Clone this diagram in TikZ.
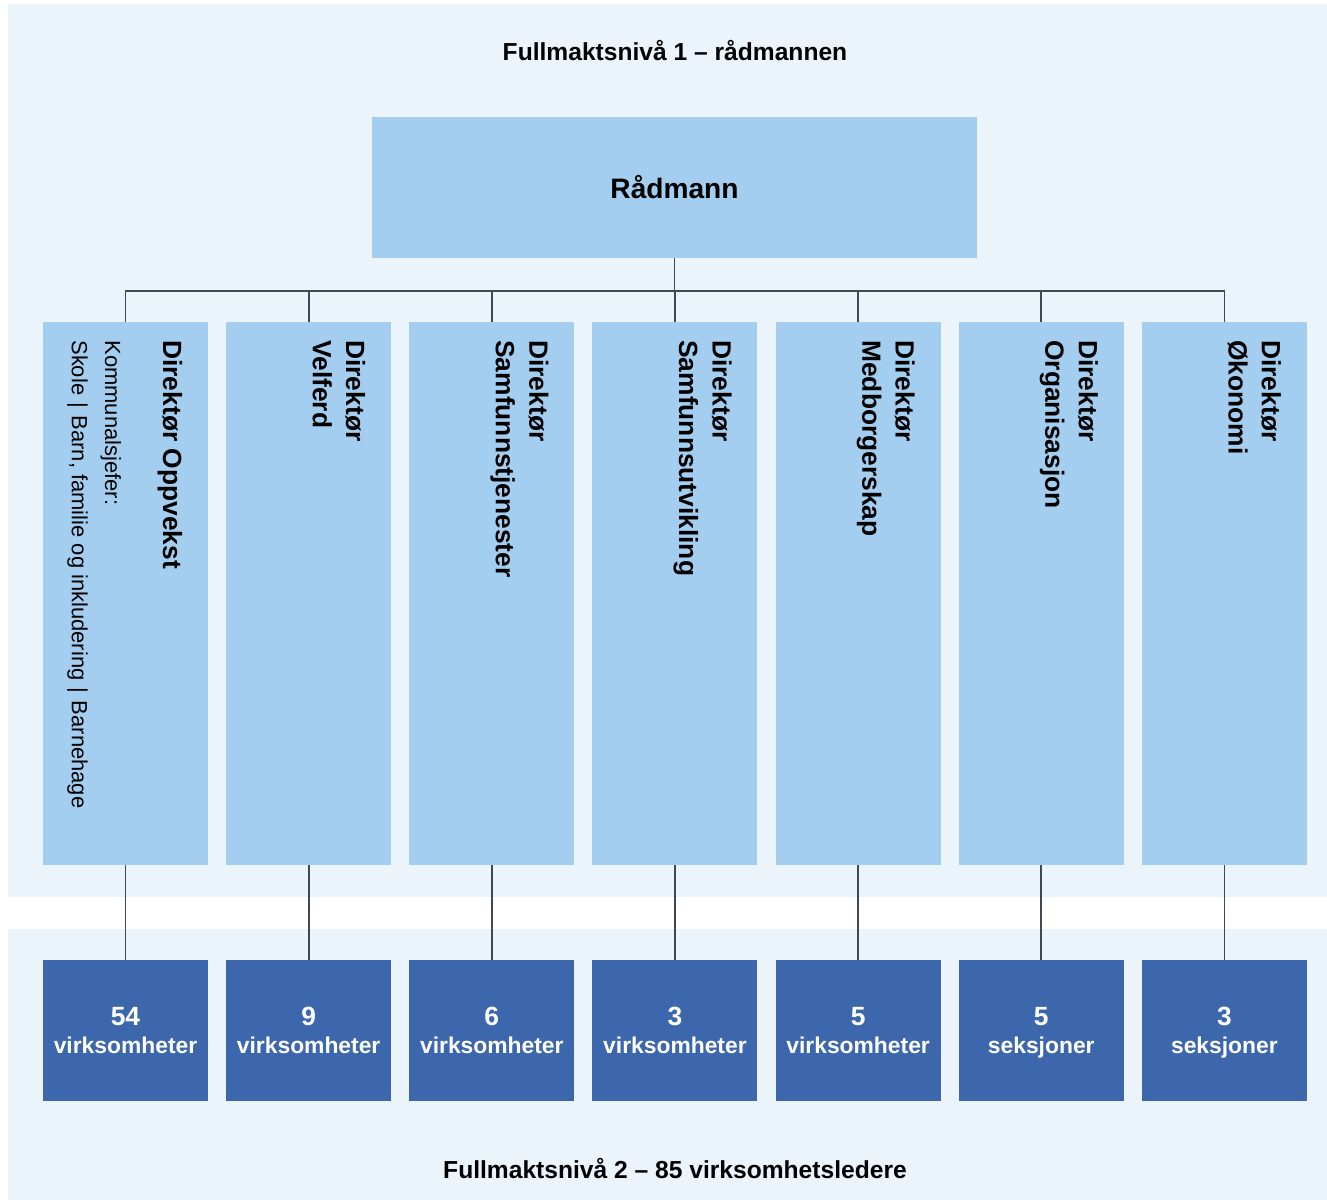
\documentclass[tikz,border=0pt]{standalone}
\usepackage{fontspec}
\setmainfont{Liberation Sans}
\usetikzlibrary{positioning,calc}
\definecolor{bakgrunn}{HTML}{EBF3FB}
\definecolor{lysbla}{HTML}{A4CEF0}
\definecolor{morkbla}{HTML}{3C67AD}
\definecolor{strek}{HTML}{404858}

\begin{document}
\begin{tikzpicture}[boks/.style={fill=lysbla,minimum width=12.1cm,minimum height=2.82cm,inner sep=0pt,font=\fontsize{16}{19}\selectfont\bfseries},
                      dirboks/.style={fill=lysbla,minimum width=3.3cm,minimum height=10.86cm,inner sep=0pt,outer sep=0pt},
                      enhet/.style={fill=morkbla,text=white,minimum width=3.3cm,minimum height=2.82cm,inner sep=0pt,outer sep=0pt,align=center,font=\fontsize{13}{16}\selectfont\bfseries},
                      tittel/.style={rotate=-90,anchor=north west,align=left,inner sep=0pt,font=\fontsize{15}{19}\selectfont\bfseries},
                      undertekst/.style={rotate=-90,anchor=north west,align=left,inner sep=0pt,font=\fontsize{12.5}{19}\selectfont},
                      niva/.style={font=\fontsize{14}{17}\selectfont\bfseries},
                      linje/.style={draw=strek,line width=1pt}]
    \useasboundingbox (0,0) rectangle (26.54,-24.04);
    \fill[bakgrunn] (0.16,-0.08) rectangle (26.54,-17.94);
    \fill[bakgrunn] (0.16,-18.58) rectangle (26.54,-24.0);
    \node[niva] (n1) at (13.5,-1.0) {Fullmaktsnivå 1 – rådmannen};
    \node[boks] (r) at (13.49,-3.75) {Rådmann};
    % direktører
    \node[dirboks,anchor=north west] (d1) at (0.86,-6.44) {};
    \node[dirboks,right=0.363cm of d1] (d2) {};
    \node[dirboks,right=0.363cm of d2] (d3) {};
    \node[dirboks,right=0.363cm of d3] (d4) {};
    \node[dirboks,right=0.363cm of d4] (d5) {};
    \node[dirboks,right=0.363cm of d5] (d6) {};
    \node[dirboks,right=0.363cm of d6] (d7) {};
    \node[tittel] (t1) at ($(d1.north east)+(-0.51,-0.36)$) {Direktør Oppvekst};
    \node[undertekst] (k1) at ($(d1.north)+(-0.08,-0.36)$) {Kommunalsjefer:\\Skole\,\,|\,\,Barn, familie og inkludering\,\,|\,\,Barnehage};
    \node[tittel] (t2) at ($(d2.north east)+(-0.51,-0.36)$) {Direktør\\Velferd};
    \node[tittel] (t3) at ($(d3.north east)+(-0.51,-0.36)$) {Direktør\\Samfunnstjenester};
    \node[tittel] (t4) at ($(d4.north east)+(-0.51,-0.36)$) {Direktør\\Samfunnsutvikling};
    \node[tittel] (t5) at ($(d5.north east)+(-0.51,-0.36)$) {Direktør\\Medborgerskap};
    \node[tittel] (t6) at ($(d6.north east)+(-0.51,-0.36)$) {Direktør\\Organisasjon};
    \node[tittel] (t7) at ($(d7.north east)+(-0.51,-0.36)$) {Direktør\\Økonomi};
    % nivå 2
    \node[enhet,below=1.9cm of d1] (v1) {\fontsize{15}{16}\selectfont 54\\virksomheter};
    \node[enhet,below=1.9cm of d2] (v2) {\fontsize{15}{16}\selectfont 9\\virksomheter};
    \node[enhet,below=1.9cm of d3] (v3) {\fontsize{15}{16}\selectfont 6\\virksomheter};
    \node[enhet,below=1.9cm of d4] (v4) {\fontsize{15}{16}\selectfont 3\\virksomheter};
    \node[enhet,below=1.9cm of d5] (v5) {\fontsize{15}{16}\selectfont 5\\virksomheter};
    \node[enhet,below=1.9cm of d6] (v6) {\fontsize{15}{16}\selectfont 5\\\smash{seksjoner}};
    \node[enhet,below=1.9cm of d7] (v7) {\fontsize{15}{16}\selectfont 3\\\smash{seksjoner}};
    \node[niva] (n2) at (13.5,-23.36) {Fullmaktsnivå 2 – 85 virksomhetsledere};
    % linjer
    \coordinate (buss) at ($(r.south)+(0,-0.66)$);
    \draw[linje] (r.south) -- (buss);
    \draw[linje] (d1.north) |- (buss) -| (d7.north);
    \foreach \i in {2,...,6} \draw[linje] (d\i.north) -- (d\i.north |- buss);
    \foreach \i in {1,...,7} \draw[linje] (d\i.south) -- (v\i.north);
  \end{tikzpicture}
\end{document}
